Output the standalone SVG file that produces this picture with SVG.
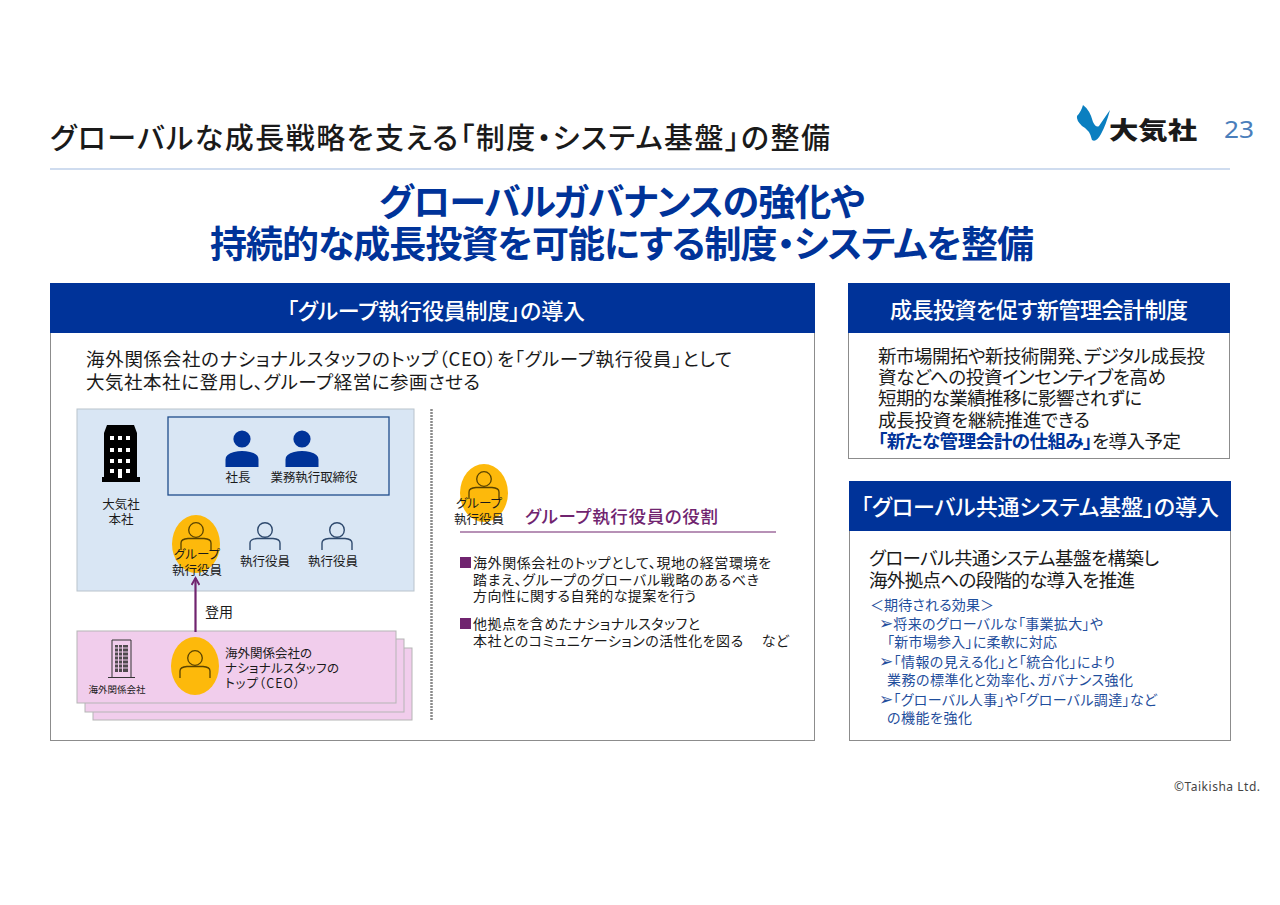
<svg xmlns="http://www.w3.org/2000/svg" width="1280" height="905" viewBox="0 0 1280 905">
<style>
text{font-family:"Noto Sans CJK JP","Noto Sans",sans-serif;fill:#1a1a1a;font-feature-settings:"palt"}
.hd{fill:#fff;font-size:22px;font-weight:500}
.b{fill:#003399;font-weight:700}
.t19{font-size:18.5px}
.t14{font-size:14px}
.t12{font-size:12.5px}
.bl{fill:#1f4e9c;font-size:14px}
.ar{font-size:17px}
.panel{fill:#fff;stroke:#8c8c8c;stroke-width:1}
.head{fill:#003399}
.o{fill:#fdb90b}
.ln{fill:none;stroke:#2f4a6e;stroke-width:1.4}
.od{fill:none;stroke:#5a4300;stroke-width:1.3}
.m{text-anchor:middle}
.pk{fill:#f1cdec;stroke:#b5b5b5;stroke-width:1}
</style>
<defs>
<marker id="arr" viewBox="0 0 10 10" refX="8" refY="5" markerWidth="4.5" markerHeight="4.5" orient="auto"><path d="M1 1L8 5L1 9" fill="none" stroke="#70246f" stroke-width="2"/></marker>
<g id="solid"><circle cx="0" cy="-19" r="8.6" fill="#003399"/><path d="M-16.5 9V1.5Q-16.5 -4 -8 -6Q0 -8 8 -6Q16.5 -4 16.5 1.5V9Z" fill="#003399"/></g>
<g id="outl"><circle cx="0" cy="-12" r="7.3"/><path d="M-15 8V1Q-15 -3 -8 -3.500H8Q15 -3 15 1V8"/></g>
</defs>

<g id="title">
<text x="50" y="149" font-size="29" font-weight="500" textLength="780" lengthAdjust="spacing">グローバルな成長戦略を支える「制度・システム基盤」の整備</text>
<rect x="50" y="168" width="1180" height="2" fill="#cfdcef"/>
</g>
<g id="logo">
<path d="M1083 105Q1090 110 1093 122Q1096 128 1099 126Q1103 120 1110 110Q1106 125 1101 134Q1096 143 1092 140Q1090 130 1082 126Q1076 120 1077 116Q1081 112 1083 105Z" fill="#0a7fc0"/>
<text x="1109" y="139" font-size="24" font-weight="900" textLength="88" lengthAdjust="spacingAndGlyphs">大気社</text>
<text x="1224" y="138" font-size="23" textLength="30" lengthAdjust="spacingAndGlyphs" style="fill:#4a7ebb;font-family:'Noto Sans',sans-serif">23</text>
</g>
<g id="headline">
<text class="b m" x="622" y="216" font-size="37" textLength="486" lengthAdjust="spacing">グローバルガバナンスの強化や</text>
<text class="b m" x="622" y="258" font-size="37" textLength="824" lengthAdjust="spacing">持続的な成長投資を可能にする制度・システムを整備</text>
</g>

<g id="panel-left">
<rect class="panel" x="50.500" y="283.500" width="764" height="457"/>
<rect class="head" x="50" y="283" width="765" height="50"/>
<text class="hd m" x="436" y="319" textLength="298" lengthAdjust="spacing">「グループ執行役員制度」の導入</text>
<text class="t19" x="86" y="366" textLength="646" lengthAdjust="spacing">海外関係会社のナショナルスタッフのトップ（CEO）を「グループ執行役員」として</text>
<text class="t19" x="86" y="389" textLength="394" lengthAdjust="spacing">大気社本社に登用し、グループ経営に参画させる</text>
</g>

<g id="hq">
<rect x="77" y="409" width="337" height="182" fill="#d9e6f4" stroke="#b9c3cc" stroke-width="1"/>
<path d="M102 482V477H104V433L107 425H134L137 433V477H140V482Z" fill="#000"/>
<path d="M110 436h4v4h-4zM118 436h4v4h-4zM126 436h4v4h-4zM110 448h4v4h-4zM118 448h4v4h-4zM126 448h4v4h-4zM110 459h4v4h-4zM118 459h4v4h-4zM126 459h4v4h-4zM110 469h4v4h-4zM126 469h4v4h-4zM118 469h4v9h-4z" fill="#fff"/>
<text class="t12 m" x="121" y="509">大気社</text>
<text class="t12 m" x="121" y="524">本社</text>
<rect x="168" y="417" width="221" height="78" fill="none" stroke="#1f4e8c" stroke-width="1.300"/>
</g>
<g id="president"><use href="#solid" x="242" y="458"/><text class="t12 m" x="238" y="482">社長</text></g>
<g id="directors"><use href="#solid" x="302" y="458"/><text class="t12 m" x="314" y="482" textLength="87" lengthAdjust="spacing">業務執行取締役</text></g>
<g id="group-officer">
<ellipse class="o" cx="196" cy="544" rx="24" ry="29"/>
<use href="#outl" class="od" x="196" y="542"/>
<text class="t12 m" x="197" y="559">グループ</text>
<text class="t12 m" x="197" y="575">執行役員</text>
</g>
<g id="officer-1"><use href="#outl" class="ln" x="265" y="542"/><text class="t12 m" x="265" y="566">執行役員</text></g>
<g id="officer-2"><use href="#outl" class="ln" x="337" y="542"/><text class="t12 m" x="333" y="566">執行役員</text></g>

<g id="subsidiary">
<rect class="pk" x="93" y="648" width="319" height="72"/>
<rect class="pk" x="85" y="639" width="319" height="73"/>
<rect class="pk" x="77" y="631" width="319" height="72"/>
<path d="M112 677V640H131V677M108 677.500H135" fill="none" stroke="#333" stroke-width="1"/>
<path d="M115 645h13v27h-13z" fill="#333" opacity="0.85"/>
<path d="M115 648h13M115 652h13M115 656h13M115 660h13M115 664h13M115 668h13M118.500 645v27M122.500 645v27" stroke="#f1cdec" stroke-width="1"/>
<text class="m" x="117" y="693" font-size="9.500">海外関係会社</text>
<ellipse class="o" cx="195" cy="666" rx="24" ry="29"/>
<use href="#outl" class="od" x="195" y="670"/>
<text class="t12" x="225" y="658">海外関係会社の</text>
<text class="t12" x="225" y="673" textLength="114" lengthAdjust="spacing">ナショナルスタッフの</text>
<text class="t12" x="225" y="688" textLength="75" lengthAdjust="spacing">トップ（CEO）</text>
</g>

<g id="connectors">
<line x1="195.500" y1="632" x2="195.500" y2="578" stroke="#70246f" stroke-width="2.200" marker-end="url(#arr)"/>
<line x1="431.500" y1="409" x2="431.500" y2="720" stroke="#8a8a8a" stroke-width="2.500" stroke-dasharray="2 1"/>
<line x1="460" y1="532" x2="776" y2="532" stroke="#70246f" stroke-width="1.200"/>
</g>
<text id="promote" class="t14" x="205" y="617">登用</text>

<g id="role">
<ellipse class="o" cx="484" cy="493" rx="24" ry="29"/>
<use href="#outl" class="od" x="484" y="491"/>
<text class="t12 m" x="479" y="508">グループ</text>
<text class="t12 m" x="479" y="524">執行役員</text>
<text x="525" y="523" font-size="17.500" font-weight="500" style="fill:#70246f" textLength="193" lengthAdjust="spacing">グループ執行役員の役割</text>
<rect x="460" y="557" width="11" height="11" fill="#70246f"/>
<text class="t14" x="473" y="568" textLength="298" lengthAdjust="spacing">海外関係会社のトップとして、現地の経営環境を</text>
<text class="t14" x="473" y="585" textLength="286" lengthAdjust="spacing">踏まえ、グループのグローバル戦略のあるべき</text>
<text class="t14" x="473" y="601" textLength="223" lengthAdjust="spacing">方向性に関する自発的な提案を行う</text>
<rect x="460" y="618" width="11" height="11" fill="#70246f"/>
<text class="t14" x="473" y="629" textLength="227" lengthAdjust="spacing">他拠点を含めたナショナルスタッフと</text>
<text class="t14" x="473" y="646" textLength="316" lengthAdjust="spacing" xml:space="preserve">本社とのコミュニケーションの活性化を図る　 など</text>
</g>

<g id="panel-accounting">
<rect class="panel" x="848.500" y="283.500" width="381" height="175"/>
<rect class="head" x="848" y="283" width="382" height="50"/>
<text class="hd m" x="1039" y="318" textLength="298" lengthAdjust="spacing">成長投資を促す新管理会計制度</text>
<text class="t19" x="878" y="363" textLength="327" lengthAdjust="spacing">新市場開拓や新技術開発、デジタル成長投</text>
<text class="t19" x="878" y="384" textLength="288" lengthAdjust="spacing">資などへの投資インセンティブを高め</text>
<text class="t19" x="878" y="405" textLength="264" lengthAdjust="spacing">短期的な業績推移に影響されずに</text>
<text class="t19" x="878" y="427" textLength="212" lengthAdjust="spacing">成長投資を継続推進できる</text>
<text class="t19" x="878" y="448" textLength="303" lengthAdjust="spacing"><tspan class="b">「新たな管理会計の仕組み」</tspan>を導入予定</text>
</g>

<g id="panel-system">
<rect class="panel" x="849.500" y="481.500" width="381" height="259"/>
<rect class="head" x="849" y="481" width="382" height="50"/>
<text class="hd m" x="1040" y="515" textLength="358" lengthAdjust="spacing">「グローバル共通システム基盤」の導入</text>
<text class="t19" x="869" y="565" textLength="290" lengthAdjust="spacing">グローバル共通システム基盤を構築し</text>
<text class="t19" x="869" y="587" textLength="266" lengthAdjust="spacing">海外拠点への段階的な導入を推進</text>
<text class="bl" x="870" y="610" textLength="124" lengthAdjust="spacing">＜期待される効果＞</text>
<text class="bl" x="879" y="629" textLength="224" lengthAdjust="spacing"><tspan class="ar">➢</tspan>将来のグローバルな「事業拡大」や</text>
<text class="bl" x="887" y="647" textLength="170" lengthAdjust="spacing">「新市場参入」に柔軟に対応</text>
<text class="bl" x="879" y="667" textLength="236" lengthAdjust="spacing"><tspan class="ar">➢</tspan>「情報の見える化」と「統合化」により</text>
<text class="bl" x="887" y="685" textLength="246" lengthAdjust="spacing">業務の標準化と効率化、ガバナンス強化</text>
<text class="bl" x="879" y="705" textLength="278" lengthAdjust="spacing"><tspan class="ar">➢</tspan>「グローバル人事」や「グローバル調達」など</text>
<text class="bl" x="887" y="723" textLength="85" lengthAdjust="spacing">の機能を強化</text>
</g>
<text id="copyright" x="1174" y="791" font-size="12" textLength="86" lengthAdjust="spacing" style="fill:#444;font-family:'Noto Sans',sans-serif">©Taikisha Ltd.</text>
</svg>
